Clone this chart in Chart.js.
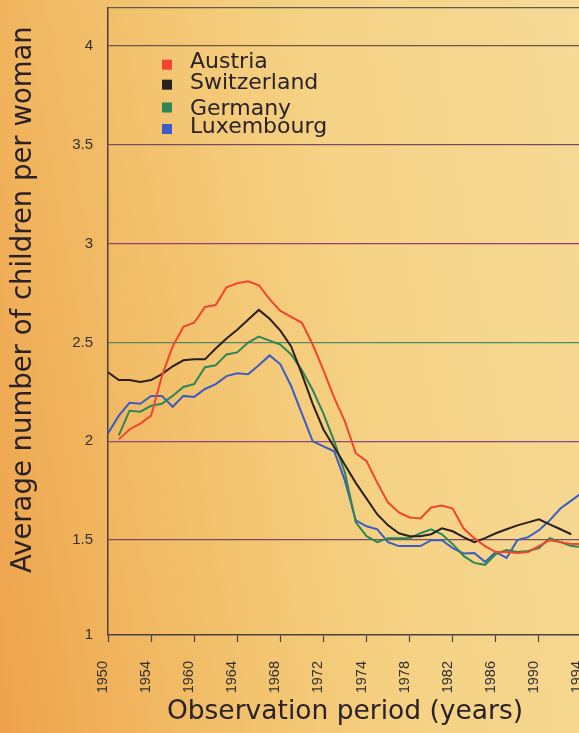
<!DOCTYPE html>
<html><head><meta charset="utf-8">
<script src="https://cdn.jsdelivr.net/npm/chart.js@4.4.1/dist/chart.umd.min.js"></script>
<style>
html,body{margin:0;padding:0;width:579px;height:733px;overflow:hidden;}
body{background:linear-gradient(80deg,#eda24b 0%,#f0b25b 16%,#f3c470 38%,#f5d386 62%,#f6da96 100%);}
#c{position:absolute;left:0;top:0;}
</style></head><body>
<canvas id="c" width="600" height="733" style="width:600px;height:733px"></canvas>
<script>
// ---- data ----
const years = [1950,1951,1952,1953,1954,1955,1956,1957,1958,1959,1960,1961,1962,1963,1964,1965,1966,1967,1968,1969,1970,1971,1972,1973,1974,1975,1976,1977,1978,1979,1980,1981,1982,1983,1984,1985,1986,1987,1988,1989,1990,1991,1992,1993,1994];
const austria = [null,2.01,2.06,2.09,2.13,2.33,2.48,2.58,2.60,2.68,2.69,2.78,2.80,2.81,2.79,2.72,2.66,2.63,2.60,2.49,2.36,2.22,2.10,1.94,1.90,1.79,1.69,1.64,1.615,1.61,1.665,1.675,1.66,1.56,1.51,1.47,1.44,1.44,1.435,1.44,1.47,1.50,1.49,1.48,1.48];
const switzerland = [2.35,2.31,2.31,2.30,2.31,2.34,2.38,2.41,2.415,2.415,2.47,2.52,2.565,2.615,2.665,2.62,2.56,2.48,2.34,2.19,2.06,1.97,1.88,1.79,1.71,1.63,1.575,1.535,1.52,1.52,1.53,1.56,1.545,1.515,1.49,1.51,1.535,1.555,1.575,1.59,1.605,1.58,1.555,1.53,null];
const germany = [null,2.03,2.155,2.15,2.18,2.19,2.23,2.275,2.29,2.375,2.385,2.44,2.45,2.50,2.53,2.51,2.49,2.44,2.36,2.26,2.14,2.00,1.84,1.59,1.52,1.49,1.51,1.51,1.51,1.535,1.555,1.53,1.48,1.42,1.385,1.375,1.43,1.45,1.44,1.445,1.46,1.51,1.49,1.47,1.465];
const luxembourg = [2.04,2.13,2.195,2.19,2.23,2.23,2.175,2.23,2.225,2.265,2.29,2.33,2.345,2.34,2.385,2.435,2.39,2.28,2.14,2.00,1.975,1.95,1.80,1.60,1.57,1.555,1.49,1.47,1.47,1.47,1.50,1.50,1.46,1.433,1.435,1.39,1.44,1.41,1.50,1.515,1.55,1.60,1.66,1.70,1.74];
const seriesNames = ['Austria','Switzerland','Germany','Luxembourg'];
const xTickYears = [1950,1954,1958,1962,1966,1970,1974,1978,1982,1986,1990,1994];
const xTickLabels = ['1950','1954','1960','1964','1968','1972','1974','1978','1982','1986','1990','1994'];
const yTickValues = [1,1.5,2,2.5,3,3.5,4];
const xTitle = 'Observation period (years)';
const yTitle = 'Average number of children per woman';

// ---- styles ----
const seriesColors = ['#f2442e','#2a2020','#2e8656','#3b5cc4'];
const gridColors = {'1.5':'#7a4a62','2':'#8a4a80','2.5':'#4f8a62','3':'#9a3a78','3.5':'#7a4a60','4':'#6b5545'};
const X_MIN = 1950, X_MAX = 1994, Y_MIN = 1.02, Y_MAX = 4.193;
const axisColor = '#4a4040';
const textColor = '#2a2228';

const seriesValues = [austria, switzerland, germany, luxembourg];
const datasets = seriesValues.map((vals, i) => ({
  label: seriesNames[i],
  data: years.map((y, j) => ({x: y, y: vals[j]})),
  borderColor: seriesColors[i],
  backgroundColor: seriesColors[i],
  borderWidth: 2,
  pointRadius: 0,
  tension: 0,
  fill: false,
  spanGaps: false
}));

const legendRows = [{sq:64.7, base:67.5},{sq:84.7, base:89.3},{sq:107.5, base:114.5},{sq:129, base:133.3}];
const inlineLegend = {
  id: 'inlineLegend',
  afterDatasetsDraw(chart) {
    const ctx = chart.ctx;
    ctx.save();
    ctx.font = '22px "DejaVu Sans"';
    ctx.textBaseline = 'alphabetic';
    ctx.textAlign = 'left';
    chart.data.datasets.forEach((ds, i) => {
      const r = legendRows[i];
      ctx.fillStyle = ds.borderColor;
      ctx.fillRect(162, r.sq - 5, 10, 10);
      ctx.fillStyle = textColor;
      ctx.fillText(ds.label, 190, r.base);
    });
    ctx.restore();
  }
};

new Chart(document.getElementById('c'), {
  type: 'line',
  data: { datasets },
  plugins: [inlineLegend],
  options: {
    responsive: false,
    animation: false,
    devicePixelRatio: 1,
    layout: { padding: { top: 8, right: 18, left: 0, bottom: 0 } },
    plugins: { legend: { display: false }, tooltip: { enabled: false } },
    scales: {
      x: {
        type: 'linear', position: 'bottom', min: X_MIN, max: X_MAX,
        afterBuildTicks: (s) => { s.ticks = xTickYears.map(v => ({value: v})); },
        afterFit: (s) => { s.height = 98; s.paddingLeft = 0; s.paddingRight = 0; },
        ticks: {
          autoSkip: false, minRotation: 90, maxRotation: 90, padding: 19, labelOffset: -5,
          color: '#333030', font: { family: '"Liberation Sans", Arial, sans-serif', size: 14.5 },
          callback: (v) => xTickLabels[xTickYears.indexOf(v)]
        },
        grid: { drawOnChartArea: false, drawTicks: true, tickLength: 7, tickColor: axisColor, tickWidth: 1.2 },
        border: { display: true, color: axisColor, width: 1.5 },
        title: {
          display: true, text: xTitle, color: textColor,
          font: { family: '"DejaVu Sans"', size: 26.5 },
          padding: { top: 0, bottom: 5 }
        }
      },
      xTop: {
        type: 'linear', position: 'top', min: X_MIN, max: X_MAX,
        afterFit: (s) => { s.height = 0; s.paddingLeft = 0; s.paddingRight = 0; },
        ticks: { display: false },
        grid: { display: false, drawTicks: false },
        border: { display: true, color: '#5d6050', width: 1.3 }
      },
      y: {
        type: 'linear', min: Y_MIN, max: Y_MAX,
        afterBuildTicks: (s) => { s.ticks = yTickValues.map(v => ({value: Math.max(v, Y_MIN)})); },
        afterFit: (s) => { s.width = 108; s.paddingTop = 0; s.paddingBottom = 0; },
        ticks: {
          padding: 15, color: '#333030',
          font: { family: '"Liberation Sans", Arial, sans-serif', size: 15 },
          callback: (v) => (v < 1.25 ? '1' : String(v))
        },
        grid: {
          drawTicks: false, lineWidth: 1.3,
          color: (c) => gridColors[String(c.tick && c.tick.value)] || 'rgba(0,0,0,0)'
        },
        border: { display: true, color: axisColor, width: 1.5 },
        title: {
          display: true, text: '     ' + yTitle, color: textColor,
          font: { family: '"DejaVu Sans"', size: 27.5 },
          padding: { top: 7, bottom: 0 }
        }
      }
    }
  }
});
</script>
</body></html>
